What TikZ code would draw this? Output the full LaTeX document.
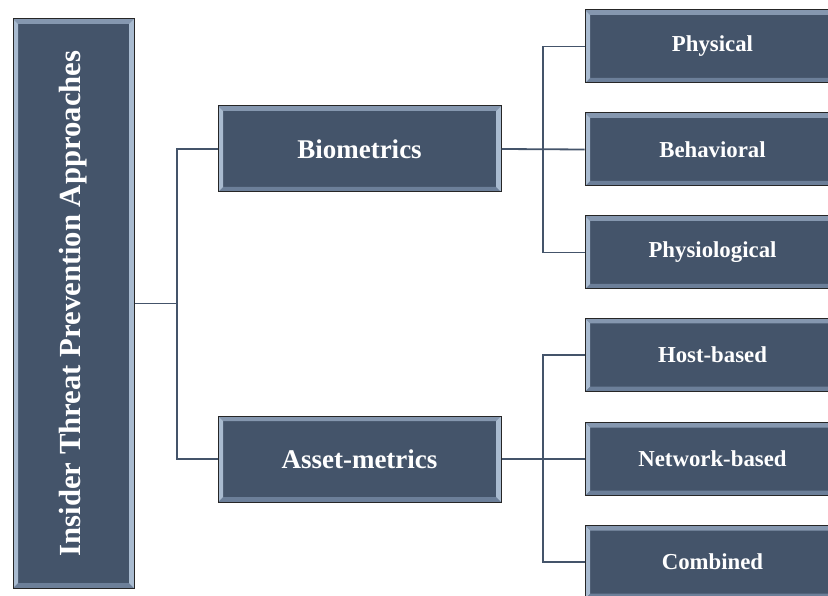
\documentclass[tikz,border=0pt]{standalone}
\usepackage{fontspec}
\setmainfont{Liberation Serif}
\definecolor{boxfill}{HTML}{44546A}
\definecolor{bevside}{HTML}{A9BBD0}
\definecolor{bevtop}{HTML}{8597AF}
\definecolor{bevbot}{HTML}{6C7F99}
\definecolor{connc}{HTML}{44546A}
\tikzset{
  bevbox/.style={draw=black!85, line width=1pt, fill=boxfill, text=white, inner sep=0pt,
    path picture={
      \fill[bevtop] (path picture bounding box.north west) -- (path picture bounding box.north east)
         -- ++(-5pt,-5pt) -- ([shift={(5pt,-5pt)}]path picture bounding box.north west) -- cycle;
      \fill[bevbot] (path picture bounding box.south west) -- (path picture bounding box.south east)
         -- ++(-5pt,5pt) -- ([shift={(5pt,5pt)}]path picture bounding box.south west) -- cycle;
      \fill[bevside] (path picture bounding box.north west) -- (path picture bounding box.south west)
         -- ++(5pt,5pt) -- ([shift={(5pt,-5pt)}]path picture bounding box.north west) -- cycle;
      \fill[bevside] (path picture bounding box.north east) -- (path picture bounding box.south east)
         -- ++(-5pt,5pt) -- ([shift={(-5pt,-5pt)}]path picture bounding box.north east) -- cycle;
    }},
  midbox/.style={bevbox, minimum width=283pt, minimum height=86pt, font=\fontsize{27}{32}\selectfont\bfseries},
  leafbox/.style={bevbox, minimum width=255pt, minimum height=73pt, font=\fontsize{22.8}{27}\selectfont\bfseries},
  conn/.style={draw=connc, line width=1.8pt},
}
\begin{document}
\begin{tikzpicture}[x=1pt,y=-1pt]
\clip (0,0) rectangle (828,596);
\fill[white] (0,0) rectangle (828,596);
% connectors first
\coordinate (rootE) at (134,303.5);
\coordinate (j1) at (177,303.5);
\coordinate (j2) at (543,149);
\coordinate (j3) at (543,459);
\node[bevbox, minimum width=121pt, minimum height=569pt] (root) at (73.5,303.5) {};
\node[rotate=90, text=white, font=\fontsize{30.7}{36}\selectfont\bfseries] (roottext) at (root.center) {Insider Threat Prevention Approaches};
\node[midbox] (bio) at (359.5,149) {Biometrics};
\node[midbox] (asset) at (359.5,459) {Asset-metrics};
\node[leafbox] (phys) at (712.5,46.5) {Physical};
\node[leafbox] (behav) at (712.5,149.5) {Behavioral};
\node[leafbox] (physio) at (712.5,252.5) {Physiological};
\node[leafbox] (host) at (712.5,355) {Host-based};
\node[leafbox] (net) at (712.5,459) {Network-based};
\node[leafbox] (comb) at (712.5,562) {Combined};
\begin{scope}[on background layer/.try]
\end{scope}
\draw[conn] (root.east) -- (j1);
\draw[conn] (bio.west) -| (j1);
\draw[conn] (asset.west) -| (j1);
\draw[conn] (bio.east) -- (behav.west);
\draw[conn] (phys.west) -| (j2);
\draw[conn] (physio.west) -| (j2);
\draw[conn] (asset.east) -- (net.west);
\draw[conn] (host.west) -| (j3);
\draw[conn] (comb.west) -| (j3);
\end{tikzpicture}
\end{document}
